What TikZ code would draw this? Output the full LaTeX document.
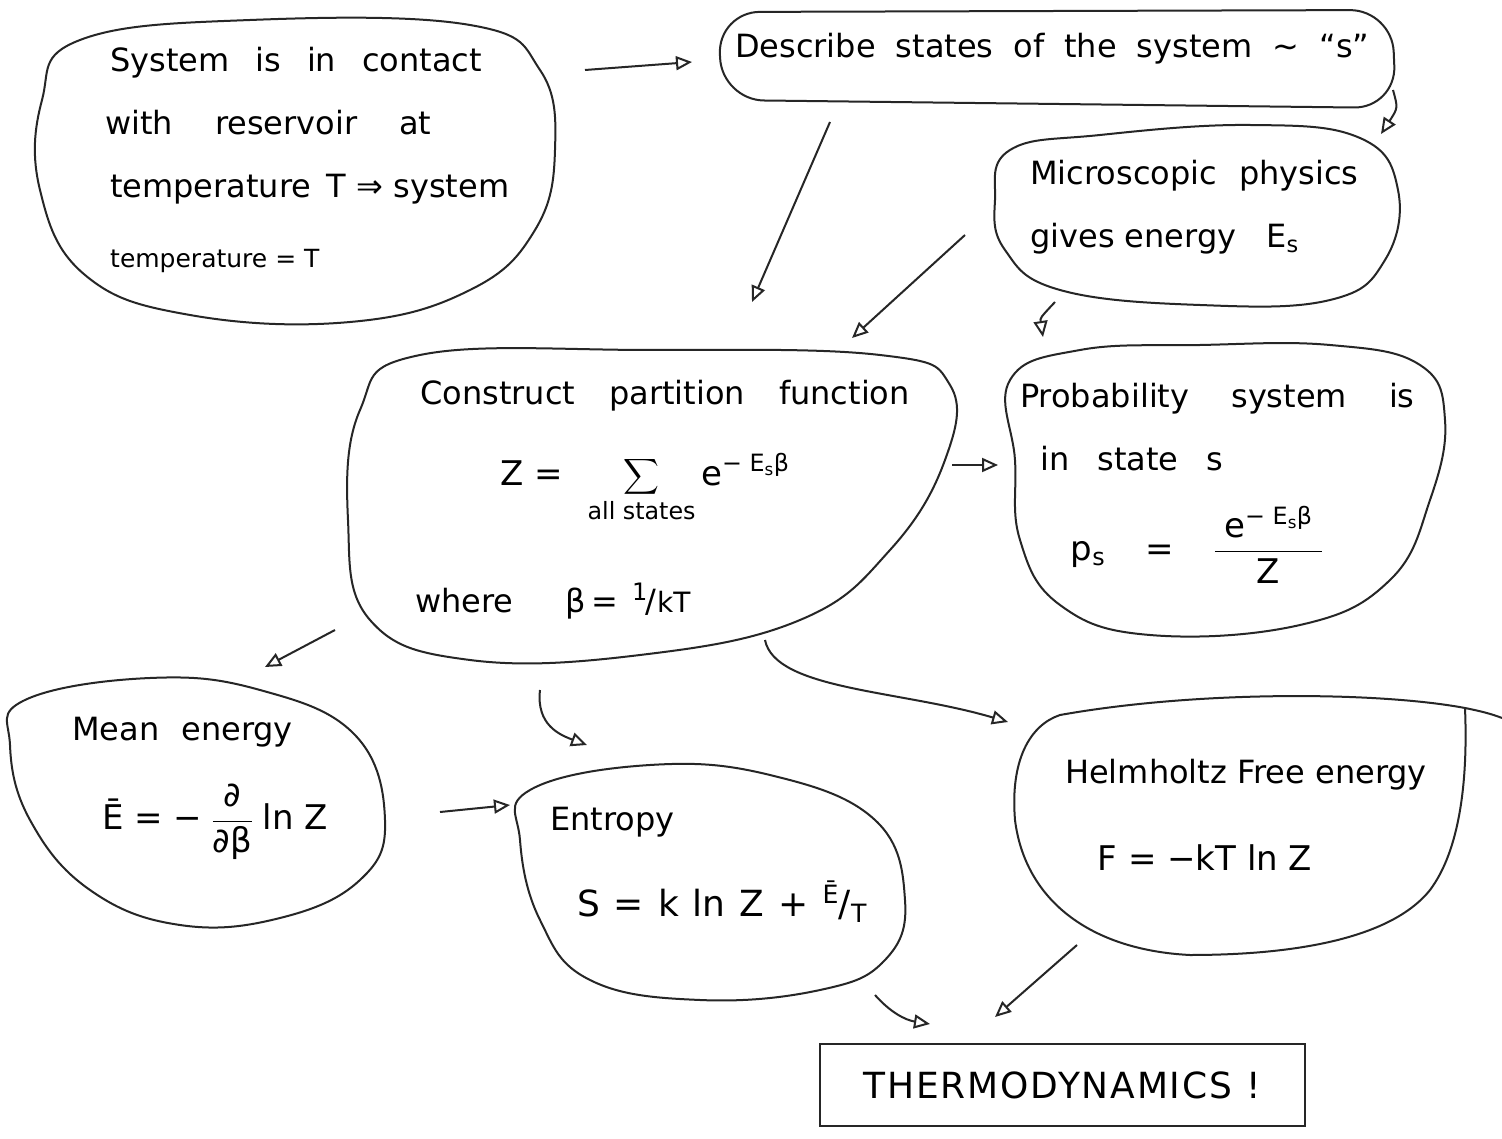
\RequirePackage{fix-cm}
\documentclass[tikz,border=0pt]{standalone}
\usepackage{amsmath}
\usepackage{fontspec}
\setmainfont{DejaVu Sans}
\usetikzlibrary{arrows.meta}
\newcommand\wsp[1]{\spaceskip=#1pt plus 2pt minus 2pt\relax}
\newcommand\tx[1]{\text{#1}}
\tikzset{
  blob/.style={draw=black!85, line width=2pt},
  txt/.style={inner sep=0pt, anchor=base west, font=\fontsize{32}{38}\selectfont},
  wtxt/.style={inner sep=0pt, anchor=base west, font={\fontsize{32}{38}\selectfont\wsp{#1}}},
  small/.style={inner sep=0pt, anchor=base west, font=\fontsize{25}{30}\selectfont},
  eq/.style={inner sep=0pt, anchor=center, font=\fontsize{34}{40}\selectfont},
  conn/.style={draw=black!85, line width=2pt, -{Triangle[open,length=16pt,width=14pt,line width=2pt]}}
}
\begin{document}
\begin{tikzpicture}[x=1pt,y=-1pt]
\useasboundingbox (0,0) rectangle (1502,1139);
\fill[white] (0,0) rectangle (1502,1139);

% ---- blob outlines ----
\draw[blob] plot[smooth cycle, tension=0.7] coordinates {(80,40) (250,20) (470,25) (540,70) (555,150) (535,230) (470,290) (350,322) (190,315) (85,275) (40,190) (42,100)};
\draw[blob, rounded corners=42pt] (718,12) -- (1392,10) -- (1396,108) -- (722,100) -- cycle;
\draw[blob] plot[smooth cycle, tension=0.7] coordinates {(1010,150) (1100,135) (1250,125) (1360,138) (1398,190) (1385,260) (1330,300) (1200,305) (1060,290) (1005,250) (995,200)};
\draw[blob] plot[smooth cycle, tension=0.7] coordinates {(420,355) (650,350) (880,355) (950,385) (945,460) (890,550) (800,620) (640,655) (470,660) (370,620) (348,520) (360,410)};
\draw[blob] plot[smooth cycle, tension=0.7] coordinates {(1010,380) (1080,350) (1200,345) (1330,345) (1420,365) (1445,420) (1430,500) (1390,580) (1300,625) (1150,635) (1060,605) (1020,540) (1015,460)};
\draw[blob] plot[smooth cycle, tension=0.7] coordinates {(25,700) (150,678) (260,690) (355,735) (385,820) (360,880) (280,918) (180,925) (90,890) (30,820) (10,745)};
\draw[blob] plot[smooth cycle, tension=0.7] coordinates {(530,790) (650,765) (770,775) (875,820) (905,900) (885,960) (820,990) (700,1000) (590,980) (540,920) (520,840)};
\draw[blob] (1465,708) .. controls (1468,780) and (1460,850) .. (1430,890)
  .. controls (1390,940) and (1290,955) .. (1190,955)
  .. controls (1090,950) and (1025,900) .. (1015,820)
  .. controls (1010,760) and (1030,725) .. (1060,715)
  .. controls (1200,690) and (1380,692) .. (1465,708)
  .. controls (1480,711) and (1492,714) .. (1502,718);

% ---- texts ----
\node[wtxt=26] (a1) at (110,72) {System is in contact};
\node[wtxt=42] (a2) at (105,135) {with reservoir at};
\node[txt] (a3) at (110,198) {temperature\, T ⇒ system};
\node[small] (a4) at (110,268) {temperature = T};

\node[wtxt=20] (b1) at (735,58) {Describe states of the system ∼ “s”};

\node[wtxt=22] (c1) at (1030,185) {Microscopic physics};
\node[txt] (c2) at (1030,248) {gives energy\hspace{30pt}E\textsubscript{s}};

\node[wtxt=34] (d1) at (420,405) {Construct partition function};
\node[eq] (d2) at (645,488) {$\displaystyle \tx{Z =}\;\; \sum_{\tx{all states}} \tx{e}^{\tx{− E\textsubscript{s}β}}$};
\node[txt] (d3) at (415,612) {where\hspace{52pt}β\,=\hspace{14pt}\raisebox{12pt}{\fontsize{24}{28}\selectfont 1}\kern-2pt/\kern1pt{\fontsize{28}{32}\selectfont kT}};

\node[wtxt=42] (e1) at (1020,408) {Probability system is};
\node[wtxt=28] (e2) at (1040,470) {in state s};
\node[eq] (e3) at (1197,545) {$\displaystyle \tx{p\textsubscript{s}} \hspace{40pt}\tx{=}\hspace{40pt} \frac{\tx{\;e}^{\tx{− E\textsubscript{s}β}}\;}{\tx{Z}}$};

\node[wtxt=22] (f1) at (72,740) {Mean energy};
\node[eq] (f2) at (215,822) {$\displaystyle \tx{Ē = −}\;\frac{\tx{∂}}{\tx{∂β}}\;\tx{ln Z}$};

\node[txt] (g1) at (550,830) {Entropy};
\node[eq, font={\fontsize{36}{42}\selectfont\wsp{14}}] (g2) at (722,902) {S = k ln Z + \textsuperscript{Ē}/\textsubscript{T}};

\node[txt] (h1) at (1065,783) {Helmholtz Free energy};
\node[eq] (h2) at (1205,858) {F = −kT ln Z};

\node[draw=black!85, line width=2pt, minimum width=485pt, minimum height=82pt, inner sep=0pt, font={\fontsize{36}{42}\selectfont\addfontfeature{LetterSpace=5}}] (thermo) at (1062,1085) {THERMODYNAMICS\hspace{14pt}!};

% ---- connector end points ----
\coordinate (p1s) at (585,70);   \coordinate (p1e) at (692,62);
\coordinate (p2s) at (830,122);  \coordinate (p2e) at (752,302);
\coordinate (p3s) at (1393,90);  \coordinate (p3e) at (1381,134);
\coordinate (p4s) at (965,235);  \coordinate (p4e) at (852,338);
\coordinate (p5s) at (1055,302); \coordinate (p5e) at (1043,337);
\coordinate (p6s) at (952,465);  \coordinate (p6e) at (998,465);
\coordinate (p7s) at (335,630);  \coordinate (p7e) at (265,667);
\coordinate (p8s) at (540,690);  \coordinate (p8e) at (587,745);
\coordinate (p9s) at (765,640);  \coordinate (p9e) at (1008,722);
\coordinate (p10s) at (440,812); \coordinate (p10e) at (510,805);
\coordinate (p11s) at (875,995); \coordinate (p11e) at (930,1024);
\coordinate (p12s) at (1077,945);\coordinate (p12e) at (995,1017);

% ---- connectors ----
\draw[conn] (p1s) -- (p1e);
\draw[conn] (p2s) -- (p2e);
\draw[conn] (p3s) .. controls (1398,108) .. (p3e);
\draw[conn] (p4s) -- (p4e);
\draw[conn] (p5s) .. controls (1040,318) .. (p5e);
\draw[conn] (p6s) -- (p6e);
\draw[conn] (p7s) -- (p7e);
\draw[conn] (p8s) .. controls (536,725) and (560,735) .. (p8e);
\draw[conn] (p9s) .. controls (775,690) and (900,690) .. (p9e);
\draw[conn] (p10s) -- (p10e);
\draw[conn] (p11s) .. controls (890,1012) and (905,1020) .. (p11e);
\draw[conn] (p12s) -- (p12e);
\end{tikzpicture}
\end{document}
